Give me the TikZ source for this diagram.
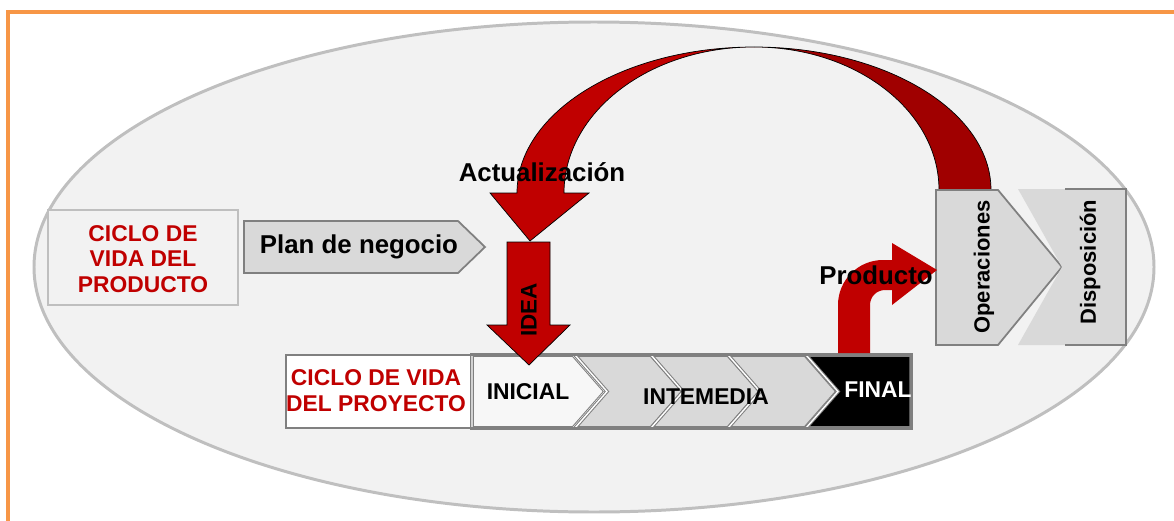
\documentclass[tikz,border=0pt]{standalone}
\usepackage{fontspec}
\setmainfont{Liberation Sans}
\definecolor{arrowred}{HTML}{C00000}
\definecolor{darkred}{HTML}{A00000}
\definecolor{framegray}{HTML}{BFBFBF}
\definecolor{boxgray}{HTML}{D9D9D9}
\definecolor{edgegray}{HTML}{808080}
\definecolor{bggray}{HTML}{F2F2F2}
\definecolor{frameorange}{HTML}{F79646}

\begin{document}
\begin{tikzpicture}[x=0.02cm,y=-0.02cm,
  label/.style={font=\fontsize{14.7}{18}\selectfont\bfseries},
  redtext/.style={text=arrowred,font=\fontsize{13}{14.7}\selectfont\bfseries,align=center},
  bartext/.style={font=\fontsize{13}{15}\selectfont\bfseries},
  sidetext/.style={font=\fontsize{12.5}{15}\selectfont\bfseries,rotate=90},
  chevron/.style={fill=boxgray,draw=edgegray,line width=0.6pt,double=white,double distance=0.8pt}]
\useasboundingbox (0,0) rectangle (1174,521);

\draw[frameorange,line width=2pt] (8,521) -- (8,12) -- (1174,12);
\draw[fill=bggray,draw=framegray,line width=1.7pt] (594,267) ellipse [x radius=560,y radius=245];

\draw[fill=bggray,draw=framegray,line width=1.2pt] (48,210) rectangle (238,305);
\node[redtext] (prodlife) at (143,259) {CICLO DE\\VIDA DEL\\PRODUCTO};

\draw[fill=boxgray,draw=edgegray,line width=1pt] (244,221) -- (458,221) -- (485,247) -- (458,273) -- (244,273) -- cycle;
\node[label] (plan) at (359,247) {Plan de negocio};

\draw[fill=white] (286,355) rectangle (472,428);
\node[redtext] (projlife) at (376,391) {CICLO DE VIDA\\DEL PROYECTO};
\draw[chevron,fill=white!97!black] (472,355) -- (573,355) -- (605,391.5) -- (573,428) -- (472,428) -- cycle;
\foreach \a/\b in {575/651,651/728,728/805}
  \draw[chevron] (\a,355) -- (\b,355) -- ({\b+32},391.5) -- (\b,428) -- (\a,428) -- ({\a+32},391.5) -- cycle;
\draw[chevron,fill=black] (806,355) -- (911,355) -- (911,428) -- (806,428) -- (838,391.5) -- cycle;
\draw[edgegray,line width=1.5pt] (286,355) rectangle (911,428);
\node[bartext] (inicial) at (528,392) {INICIAL};
\node[bartext] (intermedia) at (706,397) {INTEMEDIA};
\node[bartext,text=white] (final) at (878,390) {FINAL};

\draw[fill=arrowred,line width=0.4pt] (507,242) -- (550,242) -- (550,325) -- (570,325) -- (529,365) -- (487,325) -- (507,325) -- cycle;
\node[rotate=90,font=\fontsize{12.8}{15}\selectfont\bfseries] (idea) at (529,310) {IDEA};

\draw[fill=arrowred,line width=0.4pt] (517,193) arc[start angle=180,end angle=270,x radius=237,y radius=146]
  arc[start angle=270,end angle=180,x radius=190,y radius=146] -- (589,193) -- (530,241) -- (490,193) -- cycle;
\draw[fill=darkred,line width=0.4pt] (939,190) arc[start angle=0,end angle=-90,x radius=185,y radius=143]
  arc[start angle=-90,end angle=0,x radius=237,y radius=143] -- cycle;
\node[label] (update) at (542,172) {Actualización};

\draw[fill=boxgray,draw=edgegray,line width=1pt] (936,190) -- (998,190) -- (1062,267) -- (998,345) -- (936,345) -- cycle;
\fill[boxgray] (1018,189) -- (1126,189) -- (1126,345) -- (1018,345) -- (1062,267) -- cycle;
\draw[edgegray,line width=1pt] (1065,189) -- (1126,189) -- (1126,345) -- (1065,345);
\node[sidetext] (oper) at (984,267) {Operaciones};
\node[sidetext] (disp) at (1090,262) {Disposición};

\fill[arrowred] (838,353) -- (838,305) arc[start angle=180,end angle=270,radius=45] -- (892,260) -- (892,243) -- (937,270) -- (892,305) -- (892,290) -- (885,290) arc[start angle=270,end angle=180,radius=15] -- (870,353) -- cycle;
\node[label] (product) at (876,275) {Producto};

\end{tikzpicture}
\end{document}
